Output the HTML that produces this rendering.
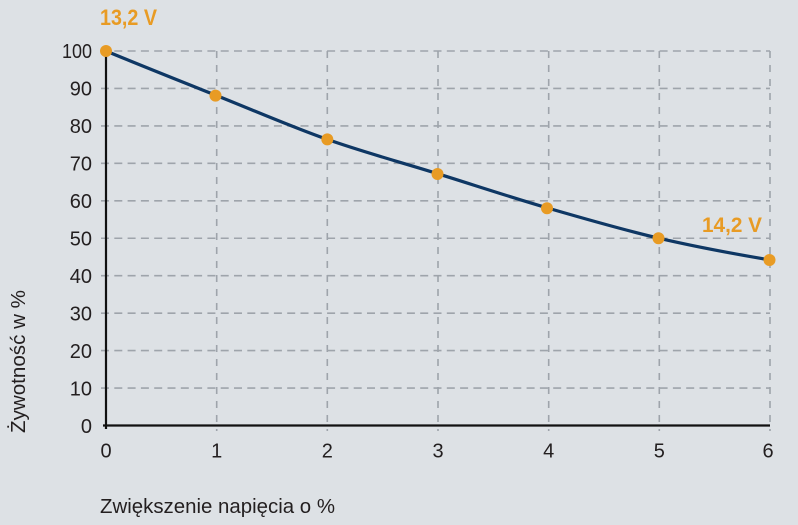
<!DOCTYPE html>
<html>
<head>
<meta charset="utf-8">
<style>
  html, body { margin: 0; padding: 0; background: #dde1e5; }
  body { width: 798px; height: 525px; overflow: hidden; }
  svg { display: block; }
  text { font-family: "Liberation Sans", sans-serif; fill: #231f20; }
</style>
</head>
<body>
<svg width="798" height="525" viewBox="0 0 798 525" xmlns="http://www.w3.org/2000/svg">
  <rect x="0" y="0" width="798" height="525" fill="#dde1e5"/>
  <!-- horizontal grid -->
  <g stroke="#9ea4ab" stroke-width="1.6" stroke-dasharray="8 5.3" fill="none">
    <line x1="101" y1="51" x2="770" y2="51"/>
    <line x1="101" y1="88.45" x2="770" y2="88.45"/>
    <line x1="101" y1="125.9" x2="770" y2="125.9"/>
    <line x1="101" y1="163.35" x2="770" y2="163.35"/>
    <line x1="101" y1="200.8" x2="770" y2="200.8"/>
    <line x1="101" y1="238.25" x2="770" y2="238.25"/>
    <line x1="101" y1="275.7" x2="770" y2="275.7"/>
    <line x1="101" y1="313.15" x2="770" y2="313.15"/>
    <line x1="101" y1="350.6" x2="770" y2="350.6"/>
    <line x1="101" y1="388.05" x2="770" y2="388.05"/>
  </g>
  <!-- vertical grid -->
  <g stroke="#9ea4ab" stroke-width="1.6" stroke-dasharray="7 7" fill="none">
    <line x1="216.7" y1="51" x2="216.7" y2="431"/>
    <line x1="327.3" y1="51" x2="327.3" y2="431"/>
    <line x1="438" y1="51" x2="438" y2="431"/>
    <line x1="548.7" y1="51" x2="548.7" y2="431"/>
    <line x1="659.3" y1="51" x2="659.3" y2="431"/>
    <line x1="770" y1="51" x2="770" y2="431"/>
  </g>
  <!-- axes -->
  <g stroke="#111" stroke-width="2.2" fill="none">
    <line x1="106" y1="51" x2="106" y2="429"/>
    <line x1="103" y1="425.5" x2="770" y2="425.5"/>
  </g>
  <!-- curve -->
  <path d="M106,51 C142.9,66.3 179.8,80.9 216.7,95.6 C253.6,110.3 290.4,126.4 327.3,139.4 C364.2,152.4 401.1,162.3 438,173.8 C474.9,185.3 511.8,197.6 548.7,208.3 C585.6,219.0 622.4,229.7 659.3,238.3 C696.2,246.9 733.1,253.7 770,260" fill="none" stroke="#0e3764" stroke-width="3.2" stroke-linecap="round"/>
  <!-- dots -->
  <g fill="#e89b24">
    <circle cx="106" cy="51" r="6"/>
    <circle cx="215.5" cy="95.6" r="6"/>
    <circle cx="327.3" cy="139.4" r="6"/>
    <circle cx="437.5" cy="174" r="6"/>
    <circle cx="547" cy="208.3" r="6"/>
    <circle cx="658.5" cy="238.3" r="6"/>
    <circle cx="769.5" cy="260" r="6"/>
  </g>
  <!-- annotations -->
  <text x="100" y="25" font-size="22" font-weight="bold" fill="#e89b24" style="fill:#e89b24" textLength="57" lengthAdjust="spacingAndGlyphs">13,2 V</text>
  <text x="702" y="232" font-size="21" font-weight="bold" fill="#e89b24" style="fill:#e89b24" textLength="60" lengthAdjust="spacingAndGlyphs">14,2 V</text>
  <!-- y tick labels -->
  <g font-size="20" text-anchor="end">
    <text x="92" y="58" textLength="30" lengthAdjust="spacingAndGlyphs">100</text>
    <text x="92" y="95.5">90</text>
    <text x="92" y="133">80</text>
    <text x="92" y="170.5">70</text>
    <text x="92" y="208">60</text>
    <text x="92" y="245.5">50</text>
    <text x="92" y="283">40</text>
    <text x="92" y="320.5">30</text>
    <text x="92" y="358">20</text>
    <text x="92" y="395.5">10</text>
    <text x="92" y="433">0</text>
  </g>
  <!-- x tick labels -->
  <g font-size="20" text-anchor="middle">
    <text x="106" y="457.5">0</text>
    <text x="216.7" y="457.5">1</text>
    <text x="327.3" y="457.5">2</text>
    <text x="438" y="457.5">3</text>
    <text x="548.7" y="457.5">4</text>
    <text x="659.3" y="457.5">5</text>
    <text x="768" y="457.5">6</text>
  </g>
  <!-- axis titles -->
  <text x="100" y="513" font-size="20" textLength="235" lengthAdjust="spacingAndGlyphs">Zwiększenie napięcia o %</text>
  <text transform="translate(25,433) rotate(-90)" x="0" y="0" font-size="20" textLength="143" lengthAdjust="spacingAndGlyphs">Żywotność w %</text>
</svg>
</body>
</html>
